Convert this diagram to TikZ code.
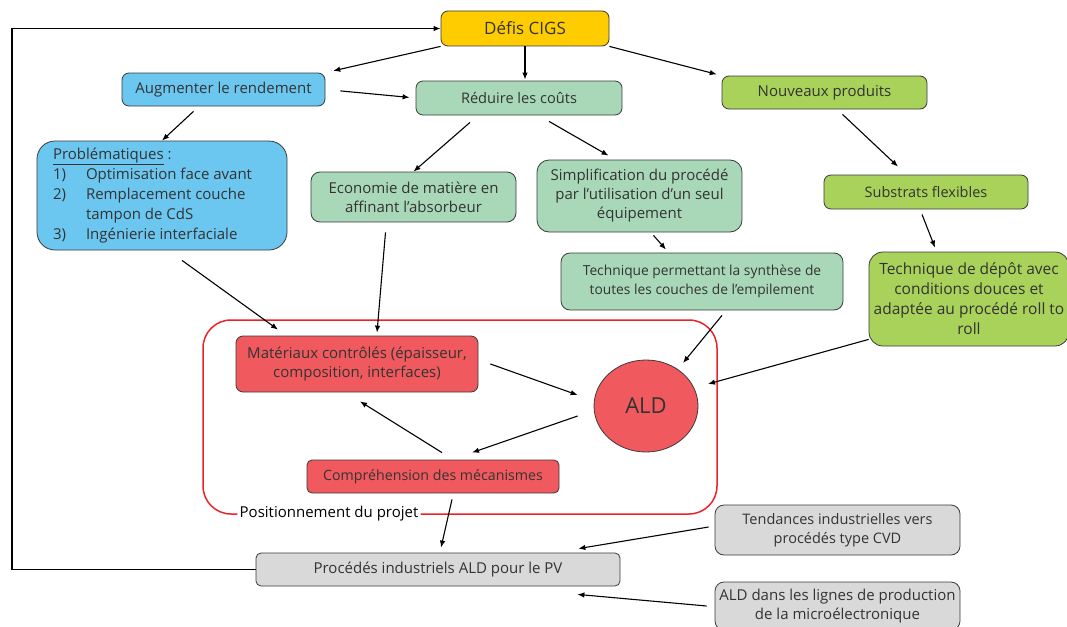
\documentclass[tikz,border=0pt]{standalone}
\usepackage{fontspec}
\setmainfont{Open Sans}
\usetikzlibrary{arrows.meta, calc, shapes.geometric}
\definecolor{defisgold}{HTML}{FFCC00}
\definecolor{rendblue}{HTML}{6CC7F0}
\definecolor{coutgreen}{HTML}{A9D8B9}
\definecolor{prodlime}{HTML}{A9D25A}
\definecolor{aldred}{HTML}{F05A5E}
\definecolor{framered}{HTML}{E8232A}
\definecolor{indgray}{HTML}{D9D9D9}
\definecolor{edgegray}{HTML}{3A3A3A}
\definecolor{txtgray}{HTML}{333333}

\tikzset{
  box/.style={draw=edgegray, line width=0.8pt, rounded corners=7pt, align=center,
    text=txtgray, font=\fontsize{15}{19}\selectfont, inner sep=2pt},
  arr/.style={-{Latex[length=7pt,width=5.5pt]}, line width=1.1pt, black},
}

\begin{document}
\begin{tikzpicture}[x=1pt, y=-1pt]
  \useasboundingbox (0,0) rectangle (1067,626);

  % Top level
  \node[box, fill=defisgold, minimum width=168pt, minimum height=35pt,
    font=\fontsize{17}{20}\selectfont] (defis) at (525,28.5) {Défis CIGS};
  \node[box, fill=rendblue, minimum width=203pt, minimum height=33pt] (augm) at (223.5,89.5) {Augmenter le rendement};
  \node[box, fill=coutgreen, minimum width=206pt, minimum height=34pt,
    font=\fontsize{14.6}{19}\selectfont] (reduire) at (519,98) {Réduire les coûts};
  \node[box, fill=prodlime, minimum width=205pt, minimum height=33pt] (nouveaux) at (824.5,92.5) {Nouveaux produits};

  % Second level
  \node[box, fill=rendblue, rounded corners=18pt, minimum width=250pt, minimum height=109pt,
    font=\fontsize{15}{20}\selectfont] (probl) at (162,195.5) {%
    \makebox[218pt][l]{\begin{tabular}{@{}p{33pt}@{}l@{}}
      \multicolumn{2}{@{}l}{\underline{Problématiques} :}\\
      1) & Optimisation face avant\\
      2) & Remplacement couche\\
         & tampon de CdS\\
      3) & Ingénierie interfaciale
    \end{tabular}}};
  \node[box, fill=coutgreen, rounded corners=9pt, minimum width=205pt, minimum height=50pt] (econ) at (413.5,197)
    {Economie de matière en\\affinant l’absorbeur};
  \node[box, fill=coutgreen, rounded corners=12pt, minimum width=205pt, minimum height=72pt] (simpl) at (639.5,196)
    {Simplification du procédé\\par l’utilisation d’un seul\\équipement};
  \node[box, fill=prodlime, minimum width=204pt, minimum height=34pt,
    font=\fontsize{14.5}{19}\selectfont] (subst) at (926,192) {Substrats flexibles};
  \node[box, fill=coutgreen, rounded corners=9pt, minimum width=282pt, minimum height=57pt,
    font=\fontsize{13.8}{19}\selectfont] (techsyn) at (702,281.5)
    {Technique permettant la synthèse de\\toutes les couches de l’empilement};
  \node[box, fill=prodlime, rounded corners=14pt, minimum width=200pt, minimum height=94pt,
    font=\fontsize{15.5}{20}\selectfont] (techdep) at (969,299)
    {Technique de dépôt avec\\conditions douces et\\adaptée au procédé roll to\\roll};

  % Positionnement du projet
  \node[text=black, font=\fontsize{15}{18}\selectfont, inner sep=2pt] (posit) at (329,514) {Positionnement du projet};
  \draw[framered, line width=1.5pt, rounded corners=28pt] (posit.east) -| (717,320) -| (203,514) -- (posit.west);
  \node[box, fill=aldred, minimum width=242pt, minimum height=56pt] (mater) at (357,364)
    {Matériaux contrôlés (épaisseur,\\composition, interfaces)};
  \node[draw=edgegray, line width=0.8pt, ellipse, fill=aldred, minimum width=104pt, minimum height=92pt,
    text=txtgray, font=\fontsize{22}{24}\selectfont] (ald) at (646,406) {ALD};
  \node[box, fill=aldred, rounded corners=5pt, minimum width=252pt, minimum height=33pt,
    font=\fontsize{14.2}{19}\selectfont] (compr) at (433,476.5) {Compréhension des mécanismes};

  % Industrial level
  \node[box, fill=indgray, rounded corners=5pt, minimum width=364pt, minimum height=33pt] (procedes) at (438,569.5)
    {Procédés industriels ALD pour le PV};
  \node[box, fill=indgray, rounded corners=9pt, minimum width=245pt, minimum height=50pt,
    font=\fontsize{14.5}{19}\selectfont] (tend) at (837.5,530)
    {Tendances industrielles vers\\procédés type CVD};
  \node[box, fill=indgray, rounded corners=9pt, minimum width=245pt, minimum height=48pt] (aldlig) at (837.5,606)
    {ALD dans les lignes de production\\de la microélectronique};
  \coordinate (loop) at (12,569.5);

  % Connectors
  \draw[arr, shorten >=8pt] (defis.south west) -- (augm.north east);
  \draw[arr, shorten >=1pt] (defis.south) -- (defis.south |- reduire.north);
  \draw[arr, shorten >=5pt] (defis.south east) -- (nouveaux.north west);
  \draw[arr, shorten <=15pt, shorten >=6pt] (augm.east) -- (reduire.west);
  \draw[arr] ($(augm.south)+(-30,5)$) -- (probl.north);
  \draw[arr] ($(reduire.south)+(-49,7)$) -- (econ.north);
  \draw[arr] ($(reduire.south)+(30,6)$) -- ($(simpl.north)+(-31,-4)$);
  \draw[arr] ($(nouveaux.south)+(18,5)$) -- ($(subst.north)+(-28,-8)$);
  \draw[arr] ($(simpl.south)+(14,3)$) -- ($(techsyn.north)+(-36,-3)$);
  \draw[arr] ($(subst.south)+(-4,5)$) -- ($(techdep.north)+(-34,-4)$);
  \draw[arr] ($(probl.south)+(20,10)$) -- ($(mater.north)+(-79,-6)$);
  \draw[arr] ($(econ.south)+(-28,10)$) -- ($(mater.north)+(20,-3)$);
  \draw[arr] ($(techsyn.south)+(20,5)$) -- ($(ald.center)+(37,-43)$);
  \draw[arr] ($(techdep.south west)+(0,-7)$) -- ($(ald.center)+(62,-22)$);
  \draw[arr] ($(mater.east)+(12,0)$) -- ($(ald.west)+(-16,-11)$);
  \draw[arr] ($(ald.west)+(-16,10)$) -- ($(compr.north)+(39,-7)$);
  \draw[arr] ($(compr.north)+(9,-7)$) -- ($(mater.south)+(3,9)$);
  \draw[arr] ($(compr.south)+(19,6)$) -- ($(procedes.north)+(3,-5)$);
  \draw[arr] ($(tend.west)+(-6,-3)$) -- ($(procedes.north east)+(-42,-4)$);
  \draw[arr] ($(aldlig.west)+(-8,0)$) -- ($(procedes.south east)+(-43,8)$);
  \draw[arr] (procedes.west) -- (loop) |- (defis.west);
\end{tikzpicture}
\end{document}
